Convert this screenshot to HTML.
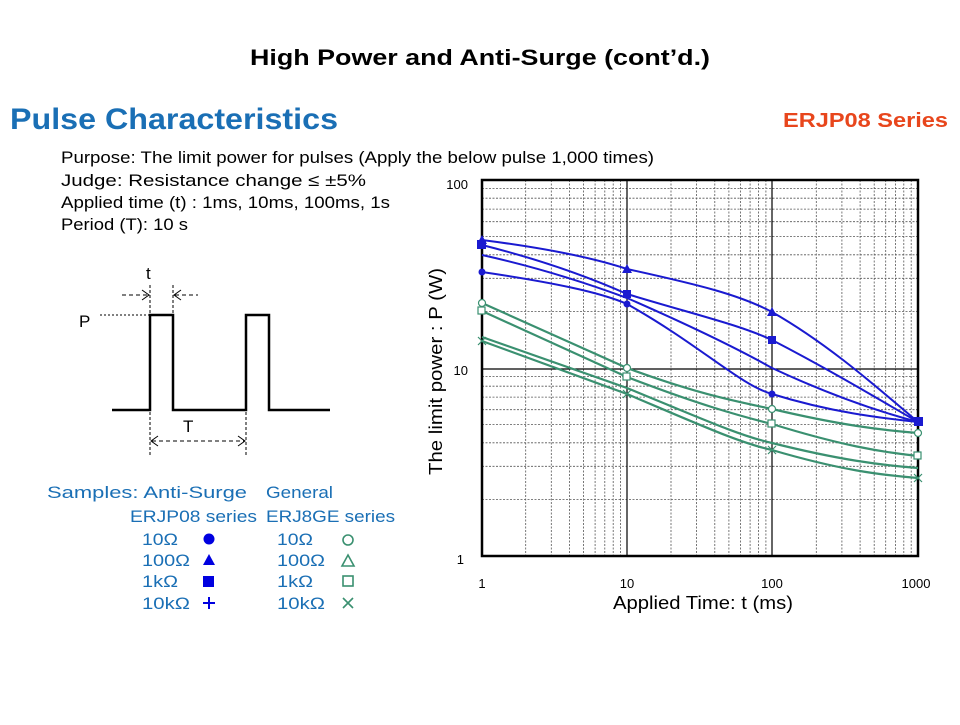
<!DOCTYPE html>
<html><head><meta charset="utf-8"><style>
body{margin:0;background:#fff;}
svg text{font-family:"Liberation Sans",sans-serif;}
</style></head><body>
<svg width="960" height="720" viewBox="0 0 960 720" xmlns="http://www.w3.org/2000/svg">
<text x="250" y="65" font-size="22" font-weight="bold" textLength="460" lengthAdjust="spacingAndGlyphs">High Power and Anti-Surge (cont’d.)</text>
<text x="10" y="129" font-size="30" font-weight="bold" fill="#1a6fb5" textLength="328" lengthAdjust="spacingAndGlyphs">Pulse Characteristics</text>
<text x="783" y="127" font-size="20" font-weight="bold" fill="#e8461c" textLength="165" lengthAdjust="spacingAndGlyphs">ERJP08 Series</text>
<g font-size="17">
<text x="61" y="163" textLength="593" lengthAdjust="spacingAndGlyphs">Purpose: The limit power for pulses (Apply the below pulse 1,000 times)</text>
<text x="61" y="186" textLength="305" lengthAdjust="spacingAndGlyphs">Judge: Resistance change ≤ ±5%</text>
<text x="61" y="208" textLength="329" lengthAdjust="spacingAndGlyphs">Applied time (t) : 1ms, 10ms, 100ms, 1s</text>
<text x="61" y="230" textLength="127" lengthAdjust="spacingAndGlyphs">Period (T): 10 s</text>
</g>
<g stroke="#000" fill="none">
<polyline points="112,410 150,410 150,315 173,315 173,410 246,410 246,315 269,315 269,410 330,410" stroke-width="2.5"/>
<line x1="100" y1="315" x2="150" y2="315" stroke-dasharray="2,2" stroke-width="1"/>
<line x1="150" y1="285" x2="150" y2="315" stroke-dasharray="3,2"/>
<line x1="173" y1="285" x2="173" y2="315" stroke-dasharray="3,2"/>
<line x1="122" y1="295" x2="148" y2="295" stroke-dasharray="4,3"/>
<line x1="175" y1="295" x2="198" y2="295" stroke-dasharray="4,3"/>
<polyline points="142,290 149,295 142,300"/>
<polyline points="181,290 174,295 181,300"/>
<line x1="150" y1="412" x2="150" y2="456" stroke-dasharray="3,2"/>
<line x1="246" y1="412" x2="246" y2="456" stroke-dasharray="3,2"/>
<line x1="152" y1="441" x2="244" y2="441" stroke-dasharray="4,3"/>
<polyline points="158,436 151,441 158,446"/>
<polyline points="238,436 245,441 238,446"/>
</g>
<text x="146" y="279" font-size="17">t</text>
<text x="79" y="327" font-size="17">P</text>
<text x="183" y="432" font-size="17">T</text>
<g font-size="17" fill="#1a6fb5">
<text x="47" y="498" textLength="200" lengthAdjust="spacingAndGlyphs">Samples: Anti-Surge</text>
<text x="266" y="498" textLength="67" lengthAdjust="spacingAndGlyphs">General</text>
<text x="130" y="522" textLength="127" lengthAdjust="spacingAndGlyphs">ERJP08 series</text>
<text x="266" y="522" textLength="129" lengthAdjust="spacingAndGlyphs">ERJ8GE series</text>
<text x="142" y="545" textLength="36" lengthAdjust="spacingAndGlyphs">10Ω</text><text x="142" y="566" textLength="48" lengthAdjust="spacingAndGlyphs">100Ω</text><text x="142" y="587" textLength="36" lengthAdjust="spacingAndGlyphs">1kΩ</text><text x="142" y="609" textLength="48" lengthAdjust="spacingAndGlyphs">10kΩ</text>
<text x="277" y="545" textLength="36" lengthAdjust="spacingAndGlyphs">10Ω</text><text x="277" y="566" textLength="48" lengthAdjust="spacingAndGlyphs">100Ω</text><text x="277" y="587" textLength="36" lengthAdjust="spacingAndGlyphs">1kΩ</text><text x="277" y="609" textLength="48" lengthAdjust="spacingAndGlyphs">10kΩ</text>
</g>
<g fill="#0000e0">
<circle cx="209" cy="539" r="5.5"/>
<polygon points="209,554 215,565 203,565"/>
<rect x="203" y="576" width="11" height="11"/>
<path d="M203,603h12M209,597v12" stroke="#0000e0" stroke-width="2"/>
</g>
<g fill="none" stroke="#3a9070" stroke-width="1.6">
<circle cx="348" cy="540" r="5"/>
<polygon points="348,555 354,566 342,566"/>
<rect x="343" y="576" width="10" height="10"/>
<path d="M343,598l10,10M353,598l-10,10"/>
</g>
<g stroke="#555" stroke-width="0.8" stroke-dasharray="2,1.5" fill="none">
<path d="M525.7,180V556M551.3,180V556M569.5,180V556M583.6,180V556M595.1,180V556M604.8,180V556M613.2,180V556M620.6,180V556
M671,180V556M696.6,180V556M714.8,180V556M728.9,180V556M740.4,180V556M750.1,180V556M758.5,180V556M765.9,180V556
M816.3,180V556M841.9,180V556M860.1,180V556M874.2,180V556M885.7,180V556M895.4,180V556M903.8,180V556M911.2,180V556
M482,499.4H918M482,466.3H918M482,442.8H918M482,424.6H918M482,409.7H918M482,397.1H918M482,386.2H918M482,376.6H918
M482,311.4H918M482,278.3H918M482,254.8H918M482,236.6H918M482,221.7H918M482,209.1H918M482,198.2H918M482,188.6H918"/>
</g>
<g stroke="#000" fill="none">
<line x1="627" y1="180" x2="627" y2="556" stroke-width="1.2"/>
<line x1="772" y1="180" x2="772" y2="556" stroke-width="1.2"/>
<line x1="482" y1="369" x2="918" y2="369" stroke-width="1.2"/>
<rect x="482" y="180" width="436" height="376" stroke-width="2.5"/>
</g>
<g font-size="13" text-anchor="middle">
<text x="482" y="588">1</text><text x="627" y="588">10</text><text x="772" y="588">100</text><text x="916" y="588">1000</text>
<text x="464" y="564" text-anchor="end">1</text><text x="468" y="375" text-anchor="end">10</text><text x="468" y="189" text-anchor="end">100</text>
</g>
<text x="613" y="609" font-size="18" textLength="180" lengthAdjust="spacingAndGlyphs">Applied Time: t (ms)</text>
<text transform="translate(442,475) rotate(-90)" font-size="18" textLength="207" lengthAdjust="spacingAndGlyphs">The limit power : P  (W)</text>
<g fill="none" stroke-width="2" stroke="#1a1ad0">
<path d="M482,240 C560,250 600,260 627,269 C700,285 740,295 772,312 C830,345 880,390 918,422"/>
<path d="M482,245 C550,262 600,282 627,294 C700,316 740,325 772,340 C830,370 880,400 918,422"/>
<path d="M482,255 C550,270 600,288 627,298 C700,330 740,350 772,368 C830,395 880,412 918,422"/>
<path d="M482,272 C550,282 600,292 627,304 C700,345 740,385 772,394 C830,412 880,418 918,422"/>
</g>
<g fill="#1a1ad0">
<polygon points="482,235 487,244 477,244"/><polygon points="627,264 632,273 622,273"/><polygon points="772,307 777,316 767,316"/>
<rect x="477" y="240" width="9" height="9"/><rect x="623" y="290" width="8" height="8"/><rect x="768" y="336" width="8" height="8"/><rect x="914" y="417" width="9" height="9"/>
<circle cx="482" cy="272" r="3.5"/><circle cx="627" cy="304" r="3.5"/><circle cx="772" cy="394" r="3.5"/>
</g>
<g fill="none" stroke-width="2.2" stroke="#3a9070">
<path d="M482,303 L627,368 C700,395 740,402 772,409 C840,425 880,430 918,433"/>
<path d="M482,311 L627,377 C700,405 740,416 772,424 C840,445 880,452 918,456"/>
<path d="M482,337 L627,388 C700,418 740,436 772,443 C840,460 880,465 918,468"/>
<path d="M482,341 L627,394 C700,425 740,443 772,450 C840,470 880,475 918,478"/>
</g>
<g fill="#fff" stroke="#3a9070" stroke-width="1.2">
<circle cx="482" cy="303" r="3.5"/><circle cx="627" cy="368" r="3.5"/><circle cx="772" cy="409" r="3.5"/><circle cx="918" cy="433" r="3.5"/>
<rect x="478" y="307" width="7" height="7"/><rect x="623" y="373" width="7" height="7"/><rect x="768" y="420" width="7" height="7"/><rect x="914" y="452" width="7" height="7"/>
<path d="M478,337l8,8M486,337l-8,8M623,390l8,8M631,390l-8,8M768,446l8,8M776,446l-8,8M914,474l8,8M922,474l-8,8" fill="none"/>
</g>
</svg>
</body></html>
